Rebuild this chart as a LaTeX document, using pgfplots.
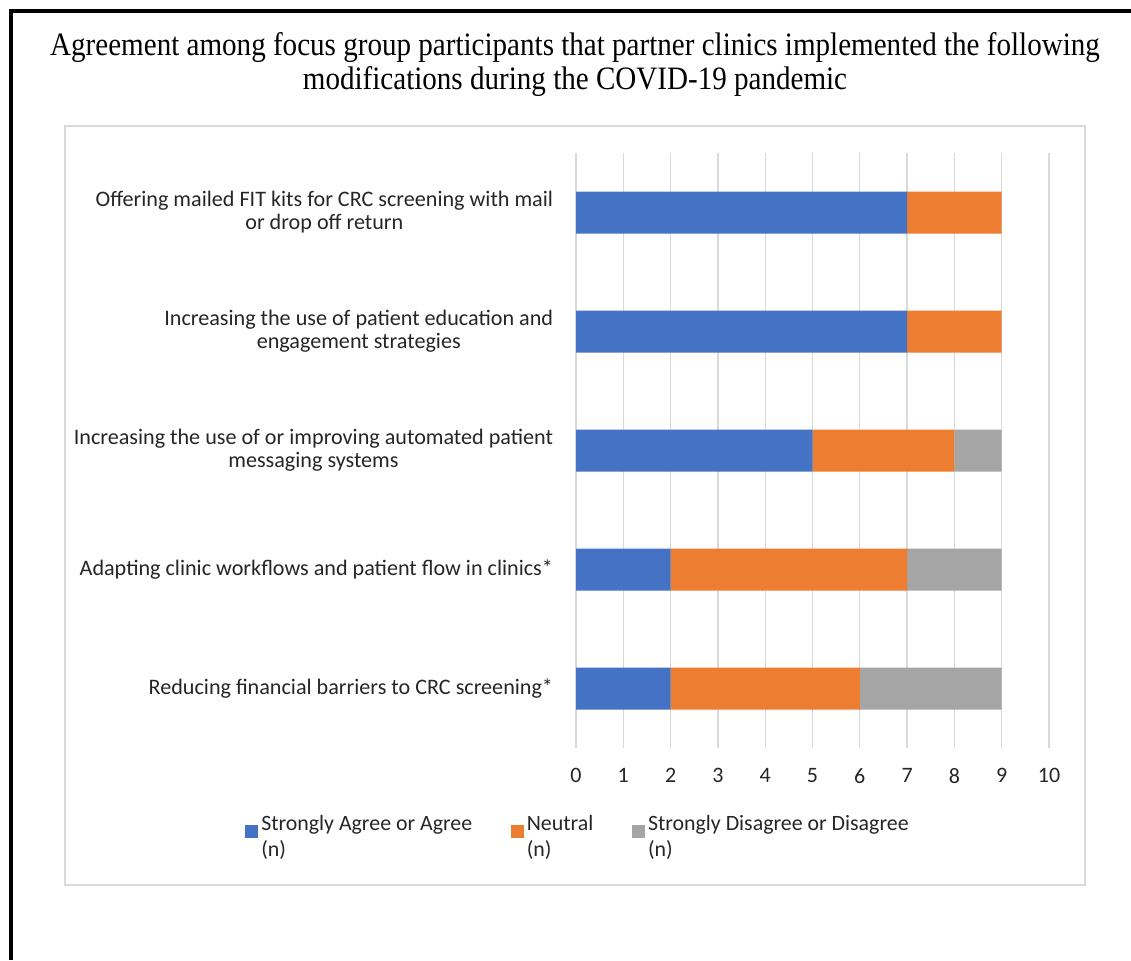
\documentclass[border=0pt]{standalone}
\usepackage{fontspec}
\setmainfont{Carlito}
\newfontfamily\titlefont{Liberation Serif}
\usepackage{pgfplots}
\pgfplotsset{compat=1.18}
\definecolor{cblue}{HTML}{4472C4}
\definecolor{corange}{HTML}{ED7D31}
\definecolor{cgray}{HTML}{A5A5A5}
\definecolor{cgrid}{HTML}{D9D9D9}
\begin{document}
\begin{tikzpicture}
\begin{scope}[x=0.75pt,y=-0.75pt]
\path[use as bounding box, fill=white] (0,0) rectangle (1131,960);
\draw[black, line width=2.4pt] (11,960) -- (11,11) -- (1131,11);
\draw[cgrid, line width=1.1pt] (65,126) rectangle (1085,885);
\node[font=\titlefont\fontsize{24.5}{28}\selectfont, anchor=base, xscale=0.89, inner sep=0pt] at (575,55) {Agreement among focus group participants that partner clinics implemented the following};
\node[font=\titlefont\fontsize{24.5}{28}\selectfont, anchor=base, xscale=0.89, inner sep=0pt] at (575,89) {modifications during the COVID-19 pandemic};
\end{scope}
\begin{axis}[
  at={(432pt,-561pt)}, anchor=south west,
  width=354.75pt, height=446.25pt, scale only axis,
  xbar stacked, bar width=31.5pt,
  xmin=0, xmax=10, ymin=0.5, ymax=5.5,
  xtick={0,1,...,10}, ytick={1,2,3,4,5},
  yticklabels={
    {Reducing financial barriers to CRC screening*},
    {Adapting clinic workflows and patient flow in clinics*},
    {Increasing the use of or improving automated patient\\messaging systems},
    {Increasing the use of patient education and\\engagement strategies},
    {Offering mailed FIT kits for CRC screening with mail\\or drop off return}},
  xmajorgrids, major grid style={cgrid, line width=1pt},
  axis line style={draw=none}, major tick length=0pt, tick style={draw=none},
  yticklabel style={align=center, inner sep=0pt, xshift=-17pt, font=\fontsize{16.6}{17.25}\selectfont, text=black!85},
  xticklabel style={inner sep=0pt, yshift=-15pt, font=\fontsize{16.5}{18}\selectfont, text=black!85},
  /pgf/number format/assume math mode=true,
  clip=false,
  legend columns=3,
  legend cell align=left,
  legend image code/.code={\fill[#1] (0pt,-0.5pt) rectangle (9.5pt,9pt);},
  legend style={draw=none, fill=none, at={(-0.6998,-0.1076)}, anchor=north west,
    font=\fontsize{16.4}{20}\selectfont, text=black!85, cells={align=left},
    /tikz/every even column/.append style={column sep=27pt},
    /tikz/every odd column/.append style={column sep=0.5pt},
    inner sep=0pt},
]
\addplot[fill=cblue, draw=none] coordinates {(2,1) (2,2) (5,3) (7,4) (7,5)};
\addplot[fill=corange, draw=none] coordinates {(4,1) (5,2) (3,3) (2,4) (2,5)};
\addplot[fill=cgray, draw=none] coordinates {(3,1) (2,2) (1,3) (0,4) (0,5)};
\legend{{Strongly Agree or Agree\\(n)}, {Neutral\\(n)}, {Strongly Disagree or Disagree\\(n)}}
\end{axis}
\end{tikzpicture}
\end{document}
